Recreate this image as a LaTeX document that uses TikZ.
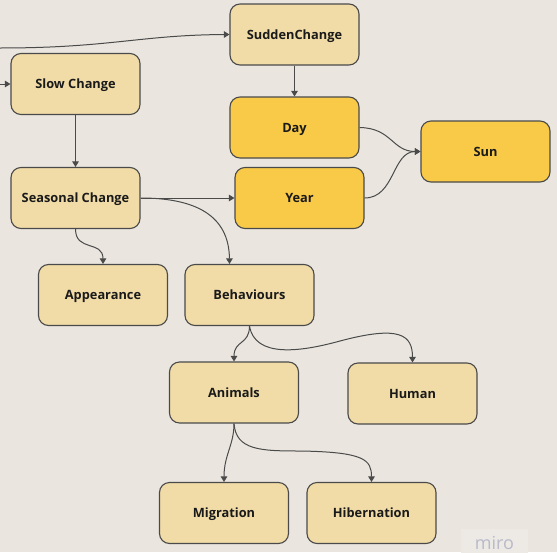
\documentclass[tikz,border=0pt]{standalone}
\usepackage{fontspec}
\setmainfont{Open Sans}
\usetikzlibrary{arrows.meta}
\definecolor{bg}{HTML}{EAE6DF}
\definecolor{pale}{HTML}{F1DCA7}
\definecolor{gold}{HTML}{F9CA48}
\definecolor{edge}{HTML}{4A4A4A}
\definecolor{ink}{HTML}{1A1A1A}
\definecolor{mark}{HTML}{B9B9C9}
\definecolor{markbg}{HTML}{EDEAE5}
\tikzset{
  box/.style={draw=edge, line width=1.1pt, rounded corners=10pt,
    minimum width=129pt, minimum height=61pt, inner sep=0pt,
    font=\fontsize{12.8}{15}\selectfont\bfseries, text=ink,
    text height=9pt, text depth=0pt},
  lbox/.style={box, fill=pale},
  ybox/.style={box, fill=gold},
  arr/.style={draw=edge, line width=1pt,
    -{Triangle[length=5.5pt,width=6.5pt]}},
}
\begin{document}
\begin{tikzpicture}[x=1pt,y=-1pt]
  \useasboundingbox (0,0) rectangle (557,552);
  \clip (0,0) rectangle (557,552);
  \fill[bg] (0,0) rectangle (557,552);

  % watermark in the corner
  \fill[markbg] (461,529) rectangle (528,560);
  \node[text=mark, font=\fontsize{18}{20}\selectfont, anchor=base, inner sep=0pt] (wm) at (494.5,549) {miro};

  % nodes
  \node[lbox] (sudden) at (294.5,34.5) {SuddenChange};
  \node[lbox] (slow) at (75.5,84) {Slow Change};
  \node[lbox] (season) at (75.5,198) {Seasonal Change};
  \node[ybox] (day) at (294.5,127.5) {Day};
  \node[ybox] (year) at (299.5,198) {Year};
  \node[ybox] (sun) at (485.5,151.5) {Sun};
  \node[lbox] (appear) at (103,295) {Appearance};
  \node[lbox] (behav) at (249.5,295) {Behaviours};
  \node[lbox] (animals) at (234,392.5) {Animals};
  \node[lbox] (human) at (412.5,393.5) {Human};
  \node[lbox] (migr) at (224,513) {Migration};
  \node[lbox] (hiber) at (371.5,513) {Hibernation};

  % incoming lines from the left edge
  \coordinate (in1) at (0,48);
  \coordinate (in2) at (0,84);
  \draw[arr] (in1) .. controls (110,48) and (140,35) .. (sudden.west);
  \draw[arr] (in2) -- (slow.west);

  % connectors
  \draw[arr] (slow.south) -- (season.north);
  \draw[arr] (sudden.south) -- (day.north);
  \draw[arr] (season.east) -- (year.west);
  \draw[arr] (season.east) .. controls (195,198) and (229,215) .. ([xshift=-20pt]behav.north);
  \draw[arr] (season.south) .. controls (75.5,252) and (103,240) .. (appear.north);
  \draw[arr] (day.east) .. controls (392,128) and (392,151.5) .. (sun.west);
  \draw[arr] (year.east) .. controls (395,198) and (392,151.5) .. (sun.west);
  \draw[arr] (behav.south) .. controls (249.5,345) and (234,340) .. (animals.north);
  \draw[arr] (behav.south) .. controls (255,358) and (300,352) .. (340,341)
    .. controls (400,325) and (412.5,335) .. (human.north);
  \draw[arr] (animals.south) .. controls (234,445) and (224,455) .. (migr.north);
  \draw[arr] (animals.south) .. controls (236,450) and (260,451) .. (300,451)
    .. controls (365,452) and (371.5,460) .. (hiber.north);
\end{tikzpicture}
\end{document}
